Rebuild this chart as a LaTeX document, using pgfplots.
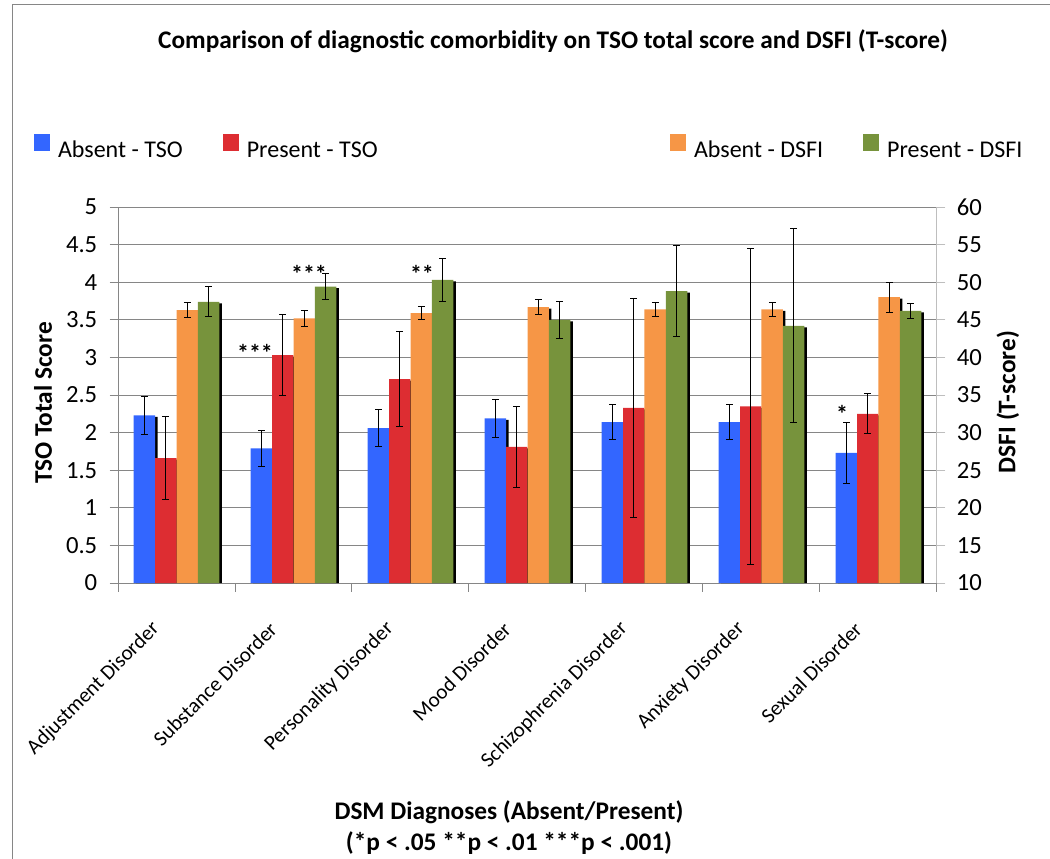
\documentclass[border=0pt]{standalone}
\usepackage{pgfplots}
\pgfplotsset{compat=1.18}
\usepackage{pgfplotstable}
\usepackage{fontspec}
\setmainfont{Carlito}
\newlength\px \setlength\px{0.75pt}
\definecolor{cblue}{RGB}{51,102,255}
\definecolor{cred}{RGB}{221,45,50}
\definecolor{corange}{RGB}{246,150,70}
\definecolor{cgreen}{RGB}{119,147,60}
\definecolor{gridc}{RGB}{134,134,134}
\definecolor{raxis}{RGB}{190,190,190}
\pgfplotstableread{
x  ta    tae    tp    tpe    da    dae   dp    dpe
0  2.23  0.25   1.66  0.55   46.3  1.0   47.4  2.0
1  1.79  0.235  3.03  0.54   45.2  1.1   49.4  1.75
2  2.06  0.25   2.71  0.63   45.9  0.9   50.3  2.8
3  2.19  0.255  1.81  0.54   46.7  1.0   45.0  2.5
4  2.14  0.235  2.33  1.46   46.4  0.95  48.8  6.05
5  2.14  0.235  2.35  2.10   46.4  0.9   44.2  12.9
6  1.73  0.41   2.25  0.265  48.0  2.0   46.2  1.0
}\data
\pgfplotsset{
  common/.style={
    at={(118\px,-583\px)}, anchor=south west,
    scale only axis, width=819\px, height=376\px,
    xmin=-0.5, xmax=6.5,
    ybar, bar width=0.183,
    tick align=outside,
    major tick length=8.5\px,
    /pgf/number format/assume math mode=true,
    ticklabel style={font=\fontsize{18.5pt}{21pt}\selectfont},
    legend columns=2,
    legend image code/.code={\fill[##1,draw=none] (0pt,-0.5pt) rectangle (12pt,12pt);},
    legend style={draw=none, fill=none, inner sep=0pt, outer sep=0pt,
      font=\fontsize{18pt}{21pt}\selectfont,
      nodes={inner sep=0pt},
      /tikz/every odd column/.append style={column sep=6pt},
      /tikz/every even column/.append style={column sep=30pt}},
  },
  ebar/.style={error bars/.cd, y dir=both, y explicit,
    error bar style={draw=black, line width=0.8\px},
    error mark=|,
    error mark options={draw=black, solid, line width=0.8\px, mark size=3.3\px}},
}
\begin{document}
\begin{tikzpicture}
\useasboundingbox (0,0) rectangle (1050\px,-859\px);
\draw[gridc, line width=1\px] (12\px,-859\px) -- (12\px,-5\px) -- (1050\px,-5\px);
\node[font=\bfseries\fontsize{19pt}{23pt}\selectfont, anchor=base, inner sep=0pt] at (553\px,-49\px)
  {Comparison of diagnostic comorbidity on TSO total score and DSFI (T-score)};
\begin{axis}[common,
  ymin=0, ymax=5,
  axis x line*=bottom, axis y line*=left,
  axis line style={gridc, line width=1\px},
  ytick={0,0.5,1,1.5,2,2.5,3,3.5,4,4.5,5},
  ymajorgrids, grid style={gridc, line width=1\px},
  tick style={gridc, line width=1\px},
  xtick={-0.5,0.5,1.5,2.5,3.5,4.5,5.5,6.5},
  x tick label as interval,
  xticklabels={Adjustment Disorder, Substance Disorder, Personality Disorder, Mood Disorder, Schizophrenia Disorder, Anxiety Disorder, Sexual Disorder},
  xticklabel style={font=\fontsize{15.8pt}{19pt}\selectfont, inner sep=0pt, anchor=east, xshift=-20\px, yshift=-34\px, rotate=45},
  yticklabel style={inner sep=0pt, anchor=east, xshift=-12\px},
  ylabel={TSO Total Score},
  every axis y label/.style={at={(axis description cs:-0.0916,0.4787)}, rotate=90, anchor=center,
    font=\bfseries\fontsize{19pt}{23pt}\selectfont},
  xlabel={DSM Diagnoses (Absent/Present)\\(*p < .05 **p < .01 ***p < .001)},
  every axis x label/.style={at={(axis description cs:0.4774,-0.5665)}, anchor=north, align=center,
    font=\bfseries\fontsize{19pt}{23.5pt}\selectfont},
  legend style={at={(axis description cs:-0.10256,1.15957)}, anchor=west},
]
\addplot[fill=black, draw=none, bar shift=-0.2531, forget plot] table[x=x, y expr=\thisrow{ta}-0.02] {\data};
\addplot[fill=cblue, draw=none, bar shift=-0.2745, ebar] table[x=x, y=ta, y error=tae] {\data};
\addlegendentry{Absent - TSO}
\addplot[fill=black, draw=none, bar shift=-0.0701, forget plot] table[x=x, y expr=\thisrow{tp}-0.02] {\data};
\addplot[fill=cred, draw=none, bar shift=-0.0915, ebar] table[x=x, y=tp, y error=tpe] {\data};
\addlegendentry{Present - TSO}
\end{axis}
\begin{axis}[common,
  ymin=10, ymax=60,
  axis x line=none, axis y line*=right,
  axis line style={raxis, line width=1\px},
  ytick={10,15,20,25,30,35,40,45,50,55,60},
  tick style={raxis, line width=1\px},
  yticklabel style={inner sep=0pt, anchor=west, xshift=11\px},
  ylabel={DSFI (T-score)},
  every axis y label/.style={at={(axis description cs:1.0867,0.4814)}, rotate=90, anchor=center,
    font=\bfseries\fontsize{19pt}{23pt}\selectfont},
  legend style={at={(axis description cs:0.67399,1.15957)}, anchor=west},
]
\addplot[fill=black, draw=none, bar shift=0.1129, forget plot] table[x=x, y expr=\thisrow{da}-0.2] {\data};
\addplot[fill=corange, draw=none, bar shift=0.0915, ebar] table[x=x, y=da, y error=dae] {\data};
\addlegendentry{Absent - DSFI}
\addplot[fill=black, draw=none, bar shift=0.2959, forget plot] table[x=x, y expr=\thisrow{dp}-0.2] {\data};
\addplot[fill=cgreen, draw=none, bar shift=0.2745, ebar] table[x=x, y=dp, y error=dpe] {\data};
\addlegendentry{Present - DSFI}
\node[anchor=base, font=\bfseries\fontsize{18pt}{20pt}\selectfont, inner sep=0pt] at (axis cs:0.671,39.5) {***};
\node[anchor=base, font=\bfseries\fontsize{18pt}{20pt}\selectfont, inner sep=0pt] at (axis cs:1.1325,49.9) {***};
\node[anchor=base, font=\bfseries\fontsize{18pt}{20pt}\selectfont, inner sep=0pt] at (axis cs:2.098,49.9) {**};
\node[anchor=base, font=\bfseries\fontsize{18pt}{20pt}\selectfont, inner sep=0pt] at (axis cs:5.688,31.3) {*};
\end{axis}
\end{tikzpicture}
\end{document}
